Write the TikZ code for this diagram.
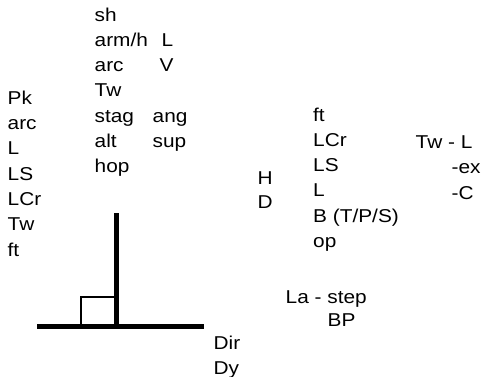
\documentclass[tikz,border=0pt]{standalone}
\usepackage{fontspec}
\setmainfont[FakeStretch=1.12]{Liberation Sans}
\usepackage{tikz}
\tikzstyle{lbl} = [anchor=base west, inner sep=0pt, font=\fontsize{18.6}{22}\selectfont]
\tikzset{thick bar/.style = {line width=4.8pt, line cap=butt},
  corner box/.style = {line width=2.3pt}
}
\begin{document}
\begin{tikzpicture}[x=1pt, y=-1pt]
              \useasboundingbox (0,0) rectangle (484,376);
              % left column
              \foreach \t [count=\i from 0] in {Pk, arc, L, LS, LCr, Tw, ft}
                \node[lbl] (lc\i) at (7.5, 104.3+25.3*\i) {\t};
              % upper column
              \foreach \t [count=\i from 0] in {sh, arm/h, arc, Tw, stag, alt, hop}
                \node[lbl] (uc\i) at (94.5, 21+25.3*\i) {\t};
              \node[lbl] (ul) at (161.5, 46.3) {L};
              \node[lbl] (uv) at (159.5, 71.6) {V};
              \node[lbl] (uang) at (152.5, 122.2) {ang};
              \node[lbl] (usup) at (152.5, 147.5) {sup};
              % right column
              \foreach \t [count=\i from 0] in {ft, LCr, LS, L, B (T/P/S), op}
                \node[lbl] (rc\i) at (313, 121+25.3*\i) {\t};
              \node[lbl] (h) at (257.5, 184.7) {H};
              \node[lbl] (d) at (257.5, 208.7) {D};
              \node[lbl] (twl) at (415.5, 148.3) {Tw - L};
              \node[lbl] (ex) at (451.5, 173.5) {-ex};
              \node[lbl] (c) at (451.5, 199.5) {-C};
              \node[lbl] (la) at (285.5, 303) {La - step};
              \node[lbl] (bp) at (327.5, 326.3) {BP};
              \node[lbl] (dir) at (213.5, 349.7) {Dir};
              \node[lbl] (dy) at (213.5, 374) {Dy};

              % lines
              \coordinate (base w) at (37, 326.3);
              \coordinate (base e) at (204, 326.3);
              \coordinate (post top) at (116.7, 213.3);
              \coordinate (post foot) at (116.7, 326.3);
              \draw[thick bar] (base w) -- (base e);
              \draw[thick bar] (post top) -- (post foot);
              \draw[corner box] (post foot) -- (81, 326.3) |- (116.7, 296.7);
            \end{tikzpicture}
\end{document}
